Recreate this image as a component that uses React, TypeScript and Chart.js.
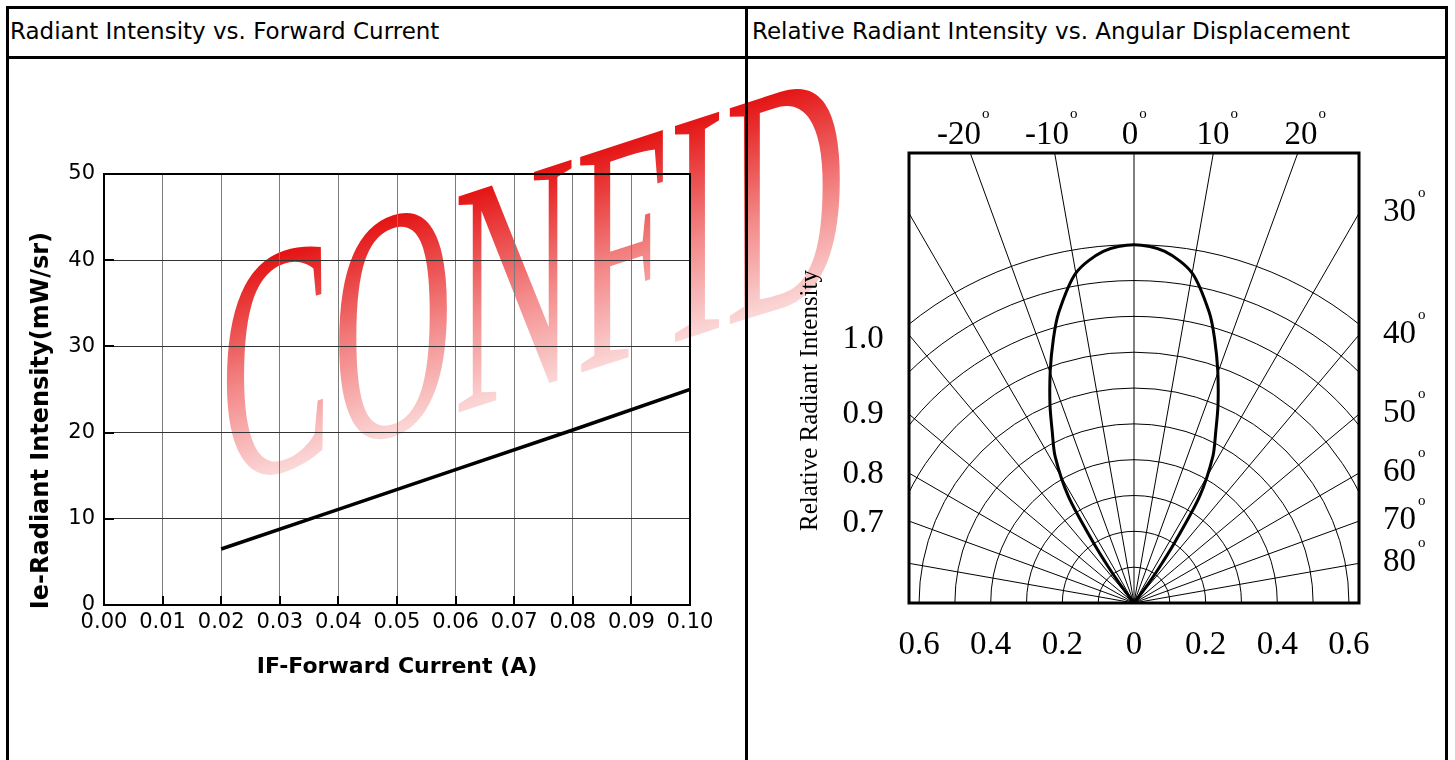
import React, { useEffect, useRef } from 'react';
import { Chart, registerables } from 'chart.js';

Chart.register(...registerables);

// ---------- Left chart data ----------
const FORWARD_CURRENT_A = [0.02, 0.04, 0.06, 0.08, 0.1];
const RADIANT_INTENSITY_MW_SR = [6.5, 11.1, 15.7, 20.3, 25.0];
const CURRENT_TICKS = [0, 0.01, 0.02, 0.03, 0.04, 0.05, 0.06, 0.07, 0.08, 0.09, 0.1];
const INTENSITY_TICKS = [0, 10, 20, 30, 40, 50];

// ---------- Polar chart data ----------
const PATTERN_ANGLE_DEG = [0, 5, 10, 14.6, 17, 19.8, 23, 25.5, 28.3, 31.6, 33.8, 35.5, 37, 38];
const PATTERN_REL_INTENSITY = [1.0, 0.985, 0.935, 0.836, 0.77, 0.69, 0.6, 0.53, 0.464, 0.35, 0.21, 0.12, 0.05, 0];
const RING_LEVELS = [0.1, 0.2, 0.3, 0.4, 0.5, 0.6, 0.7, 0.8, 0.9, 1.0];
const SPOKE_ANGLES_DEG = [-80, -70, -60, -50, -40, -30, -20, -10, 0, 10, 20, 30, 40, 50, 60, 70, 80];
const TOP_ANGLE_LABELS = [-20, -10, 0, 10, 20];
const SIDE_ANGLE_LABELS = [30, 40, 50, 60, 70, 80];
const SCALE_TEXT_LABELS = ['1.0', '0.9', '0.8', '0.7'];
const RADIUS_TICKS = [-0.6, -0.4, -0.2, 0, 0.2, 0.4, 0.6];

// ---------- Layout constants ----------
const POLAR_X_HALF = 0.628;
const POLAR_Y_MAX = 1.256;
const TOP_LABEL_LEVEL = 1.312;
const LEFT_LABEL_OFFSETS = [195, 270, 330, 379];

const SANS = '"DejaVu Sans"';
const SERIF = '"Liberation Serif"';

const leftDecor = {
  id: 'leftDecor',
  afterDraw(chart: any) {
    const { ctx, chartArea: ca, scales } = chart;
    const xs = scales.x;
    const ys = scales.y;
    ctx.save();
    ctx.strokeStyle = '#000';
    ctx.lineWidth = 2;
    ctx.strokeRect(ca.left, ca.top, ca.right - ca.left, ca.bottom - ca.top);
    ctx.beginPath();
    for (const v of INTENSITY_TICKS) {
      const py = Math.round(ys.getPixelForValue(v));
      ctx.moveTo(ca.left, py);
      ctx.lineTo(ca.left + 10, py);
    }
    for (const v of CURRENT_TICKS) {
      const px = Math.round(xs.getPixelForValue(v));
      ctx.moveTo(px, ca.bottom);
      ctx.lineTo(px, ca.bottom - 9);
    }
    ctx.stroke();
    ctx.translate(33, ca.top + 58);
    ctx.rotate(-Math.PI / 2);
    ctx.font = 'bold 24px ' + SANS;
    ctx.textAlign = 'right';
    ctx.textBaseline = 'middle';
    ctx.fillStyle = '#000';
    ctx.fillText('Ie-Radiant Intensity(mW/sr)', 0, 0);
    ctx.restore();
  },
};

const polarDecor = {
  id: 'polarDecor',
  beforeDatasetsDraw(chart: any) {
    const { ctx, chartArea: ca, scales } = chart;
    const xs = scales.x;
    const ys = scales.y;
    const cx = xs.getPixelForValue(0);
    const cy = ys.getPixelForValue(0);
    ctx.save();
    ctx.beginPath();
    ctx.rect(ca.left, ca.top, ca.right - ca.left, ca.bottom - ca.top);
    ctx.clip();
    ctx.strokeStyle = '#000';
    ctx.lineWidth = 1;
    for (const r of RING_LEVELS) {
      const rx = xs.getPixelForValue(r) - cx;
      const ry = cy - ys.getPixelForValue(r);
      ctx.beginPath();
      ctx.ellipse(cx, cy, rx, ry, 0, Math.PI, 2 * Math.PI);
      ctx.stroke();
    }
    for (const a of SPOKE_ANGLES_DEG) {
      const t = (a * Math.PI) / 180;
      ctx.beginPath();
      ctx.moveTo(cx, cy);
      ctx.lineTo(xs.getPixelForValue(2 * Math.sin(t)), ys.getPixelForValue(2 * Math.cos(t)));
      ctx.stroke();
    }
    ctx.restore();
  },
  afterDatasetsDraw(chart: any) {
    const { ctx, chartArea: ca, scales } = chart;
    const xs = scales.x;
    const ys = scales.y;
    ctx.save();
    ctx.strokeStyle = '#000';
    ctx.lineWidth = 3;
    ctx.strokeRect(ca.left, ca.top, ca.right - ca.left, ca.bottom - ca.top);

    ctx.fillStyle = '#000';
    ctx.textBaseline = 'alphabetic';
    // top angle labels
    for (const a of TOP_ANGLE_LABELS) {
      const t = (a * Math.PI) / 180;
      const px = xs.getPixelForValue(TOP_LABEL_LEVEL * Math.tan(t)) - 4;
      const base = ca.top - 9;
      const txt = String(a);
      ctx.font = '33px ' + SERIF;
      ctx.textAlign = 'center';
      const w = ctx.measureText(txt).width;
      ctx.fillText(txt, px, base);
      ctx.font = '15px ' + SERIF;
      ctx.textAlign = 'left';
      ctx.fillText('o', px + w / 2 + 1, base - 26);
    }
    // side angle labels
    for (const a of SIDE_ANGLE_LABELS) {
      const t = (a * Math.PI) / 180;
      const py = ys.getPixelForValue(POLAR_X_HALF / Math.tan(t)) + 8;
      const txt = String(a);
      const lx = ca.right + 24;
      ctx.font = '33px ' + SERIF;
      ctx.textAlign = 'left';
      const w = ctx.measureText(txt).width;
      ctx.fillText(txt, lx, py);
      ctx.font = '15px ' + SERIF;
      ctx.fillText('o', lx + w + 2, py - 24);
    }
    // left scale labels
    ctx.font = '33px ' + SERIF;
    ctx.textAlign = 'center';
    SCALE_TEXT_LABELS.forEach((txt, i) => {
      ctx.fillText(txt, ca.left - 46, ca.top + LEFT_LABEL_OFFSETS[i]);
    });
    // rotated axis title
    ctx.translate(63, ca.top + 117);
    ctx.rotate(-Math.PI / 2);
    ctx.font = '25px ' + SERIF;
    ctx.textAlign = 'right';
    ctx.textBaseline = 'middle';
    ctx.fillText('Relative Radiant Intensity', 0, 0);
    ctx.restore();
  },
};

function IntensityChart() {
  const ref = useRef<HTMLCanvasElement | null>(null);
  useEffect(() => {
    if (!ref.current) return;
    const chart = new Chart(ref.current, {
      type: 'line',
      data: {
        datasets: [
          {
            data: FORWARD_CURRENT_A.map((x, i) => ({ x, y: RADIANT_INTENSITY_MW_SR[i] })),
            borderColor: '#000',
            borderWidth: 3.5,
            pointRadius: 0,
            tension: 0,
            fill: false,
          },
        ],
      },
      options: {
        animation: false,
        responsive: false,
        maintainAspectRatio: false,
        layout: { padding: { left: 0, top: 116, right: 55, bottom: 55 } },
        plugins: { legend: { display: false }, tooltip: { enabled: false } },
        scales: {
          x: {
            type: 'linear',
            min: 0,
            max: 0.1,
            afterBuildTicks: (s: any) => {
              s.ticks = CURRENT_TICKS.map((v) => ({ value: v }));
            },
            afterFit: (s: any) => {
              s.height = 100;
            },
            ticks: {
              autoSkip: false,
              maxRotation: 0,
              minRotation: 0,
              padding: 5,
              color: '#000',
              font: { family: 'DejaVu Sans', size: 21 },
              callback: (v: any) => Number(v).toFixed(2),
            },
            grid: { color: '#7a7a7a', lineWidth: 1, drawTicks: false },
            border: { display: false },
            title: {
              display: true,
              text: 'IF-Forward Current (A)',
              color: '#000',
              font: { family: 'DejaVu Sans', size: 22, weight: 'bold' },
              padding: { top: 0, bottom: 25 },
            },
          },
          y: {
            type: 'linear',
            min: 0,
            max: 50,
            afterBuildTicks: (s: any) => {
              s.ticks = INTENSITY_TICKS.map((v) => ({ value: v }));
            },
            afterFit: (s: any) => {
              s.width = 95;
            },
            ticks: {
              padding: 9,
              color: '#000',
              font: { family: 'DejaVu Sans', size: 21 },
              callback: (v: any) => String(v),
            },
            grid: { color: '#333', lineWidth: 1, drawTicks: false },
            border: { display: false },
          },
        },
      } as any,
      plugins: [leftDecor],
    });
    return () => chart.destroy();
  }, []);
  return (
    <canvas
      ref={ref}
      width={736}
      height={702}
      style={{ position: 'absolute', left: 9, top: 58, width: 736, height: 702 }}
    />
  );
}

function PolarChart() {
  const ref = useRef<HTMLCanvasElement | null>(null);
  useEffect(() => {
    if (!ref.current) return;
    const toPoint = (deg: number, r: number) => {
      const t = (deg * Math.PI) / 180;
      return { x: r * Math.sin(t), y: r * Math.cos(t) };
    };
    const pts: { x: number; y: number }[] = [];
    for (let i = PATTERN_ANGLE_DEG.length - 1; i > 0; i--) {
      pts.push(toPoint(-PATTERN_ANGLE_DEG[i], PATTERN_REL_INTENSITY[i]));
    }
    for (let i = 0; i < PATTERN_ANGLE_DEG.length; i++) {
      pts.push(toPoint(PATTERN_ANGLE_DEG[i], PATTERN_REL_INTENSITY[i]));
    }
    const chart = new Chart(ref.current, {
      type: 'scatter',
      data: {
        datasets: [
          {
            data: pts,
            showLine: true,
            borderColor: '#000',
            borderWidth: 3,
            pointRadius: 0,
            tension: 0.3,
            fill: false,
          },
        ],
      },
      options: {
        animation: false,
        responsive: false,
        maintainAspectRatio: false,
        layout: { padding: { left: 162, top: 95, right: 87, bottom: 67 } },
        plugins: { legend: { display: false }, tooltip: { enabled: false } },
        scales: {
          x: {
            type: 'linear',
            min: -POLAR_X_HALF,
            max: POLAR_X_HALF,
            afterBuildTicks: (s: any) => {
              s.ticks = RADIUS_TICKS.map((v) => ({ value: v }));
            },
            afterFit: (s: any) => {
              s.height = 90;
            },
            ticks: {
              autoSkip: false,
              maxRotation: 0,
              minRotation: 0,
              padding: 23,
              color: '#000',
              font: { family: 'Liberation Serif', size: 33 },
              callback: (v: any) => {
                const a = Math.abs(Number(v));
                return a < 1e-9 ? '0' : a.toFixed(1);
              },
            },
            grid: { display: false, drawTicks: false },
            border: { display: false },
          },
          y: {
            type: 'linear',
            display: false,
            min: 0,
            max: POLAR_Y_MAX,
          },
        },
      } as any,
      plugins: [polarDecor],
    });
    return () => chart.destroy();
  }, []);
  return (
    <canvas
      ref={ref}
      width={699}
      height={702}
      style={{ position: 'absolute', left: 747, top: 58, width: 699, height: 702 }}
    />
  );
}

export default function App() {
  const headerStyle: React.CSSProperties = {
    position: 'absolute',
    top: 19.5,
    fontFamily: SANS,
    fontSize: 23,
    lineHeight: '23px',
    color: '#000',
    whiteSpace: 'nowrap',
  };
  return (
    <div
      style={{
        position: 'fixed',
        left: 0,
        top: 0,
        width: 1455,
        height: 760,
        overflow: 'hidden',
        background: '#fff',
      }}
    >
      <div
        style={{
          position: 'absolute',
          left: 0,
          top: 0,
          fontFamily: SERIF,
          fontSize: 330,
          lineHeight: '330px',
          whiteSpace: 'nowrap',
          transformOrigin: '0 0',
          transform: 'translate(220px, 214px) skewY(-18deg) scaleX(0.51)',
          color: 'transparent',
          backgroundImage:
            'linear-gradient(180deg, rgba(226,0,0,0.92) 18%, rgba(236,60,60,0.6) 55%, rgba(245,150,150,0.35) 85%)',
          WebkitBackgroundClip: 'text',
          backgroundClip: 'text',
        }}
      >
        CONFID
      </div>
      <div
        style={{
          position: 'absolute',
          left: 6,
          top: 6,
          width: 1442,
          height: 800,
          border: '3px solid #000',
          boxSizing: 'border-box',
        }}
      />
      <div style={{ position: 'absolute', left: 6, top: 56, width: 1442, height: 3, background: '#000' }} />
      <div style={{ position: 'absolute', left: 745, top: 6, width: 3, height: 800, background: '#000' }} />
      <div style={{ ...headerStyle, left: 10 }}>Radiant Intensity vs. Forward Current</div>
      <div style={{ ...headerStyle, left: 752 }}>Relative Radiant Intensity vs. Angular Displacement</div>
      <IntensityChart />
      <PolarChart />
    </div>
  );
}
